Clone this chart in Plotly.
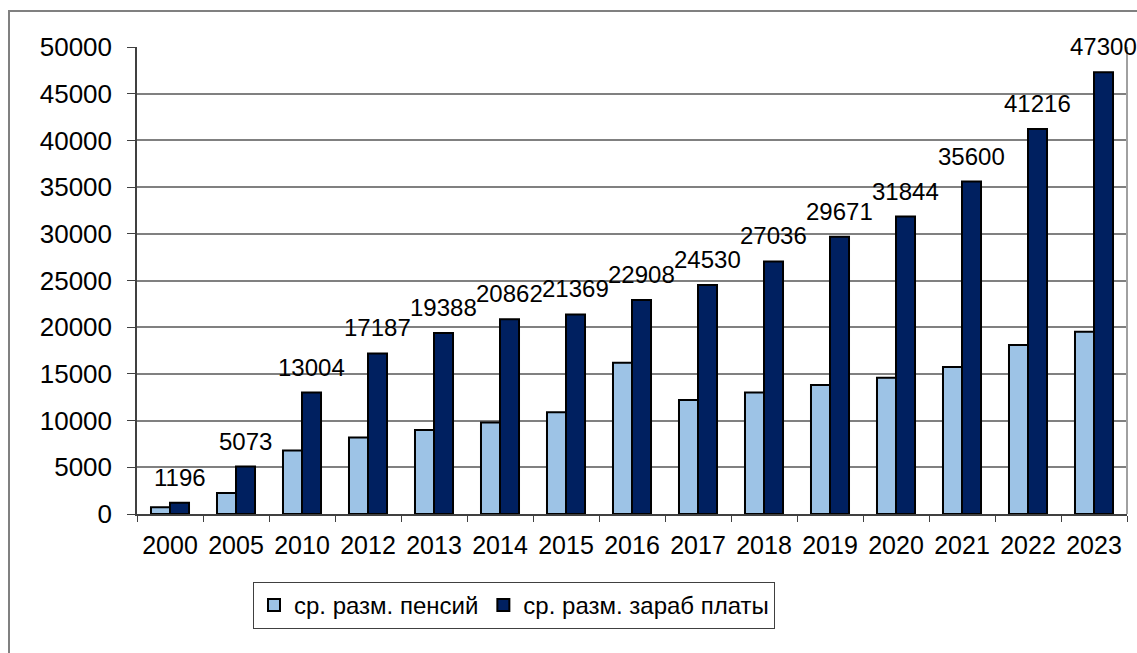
import plotly.graph_objects as go

years = ["2000", "2005", "2010", "2012", "2013", "2014", "2015", "2016",
         "2017", "2018", "2019", "2020", "2021", "2022", "2023"]
pension = [720, 2250, 6800, 8200, 9000, 9800, 10900, 16200,
           12200, 13000, 13800, 14600, 15750, 18100, 19500]
salary = [1196, 5073, 13004, 17187, 19388, 20862, 21369, 22908,
          24530, 27036, 29671, 31844, 35600, 41216, 47300]
series_names = ["ср. разм. пенсий", "ср. разм. зараб платы"]
y_ticks = [0, 5000, 10000, 15000, 20000, 25000, 30000, 35000, 40000, 45000, 50000]

FONT = "Liberation Sans, Arial, sans-serif"

fig = go.Figure()
fig.add_trace(go.Bar(x=years, y=pension, name=series_names[0],
                     marker=dict(color="#9DC3E6", line=dict(color="black", width=2))))
fig.add_trace(go.Bar(x=years, y=salary, name=series_names[1],
                     marker=dict(color="#002060", line=dict(color="black", width=2))))

for i, v in enumerate(salary):
    fig.add_annotation(x=i, y=v, text=str(v), showarrow=False, xref="x", yref="y",
                       xshift=9.5, yshift=10, yanchor="bottom",
                       font=dict(family=FONT, size=24, color="black"))

W, H = 1137, 653
L, T = 137, 47
R = W - 1127
B = H - 514
pw, ph = W - L - R, H - T - B

def px_x(x):
    return (x - L) / pw

def px_y(y):
    return (H - B - y) / ph

# outer chart border (left & top visible)
fig.add_shape(type="rect", xref="paper", yref="paper",
              x0=px_x(9), x1=px_x(1160), y0=px_y(680), y1=px_y(11),
              line=dict(color="#808080", width=2), fillcolor="rgba(0,0,0,0)", layer="below")
# right border of plot area
fig.add_shape(type="line", xref="paper", yref="paper", x0=1, x1=1, y0=0, y1=1,
              line=dict(color="#A0A0A0", width=2))

fig.update_layout(
    width=W, height=H,
    margin=dict(l=L, r=R, t=T, b=B),
    paper_bgcolor="white", plot_bgcolor="white",
    barmode="group", bargap=0.424, bargroupgap=0,
    font=dict(family=FONT, color="black"),
    showlegend=True,
    legend=dict(orientation="h", x=px_x(514), y=px_y(582), xanchor="center", yanchor="top",
                bordercolor="#404040", borderwidth=1, font=dict(size=24, family=FONT),
                itemsizing="constant"),
)
fig.update_xaxes(type="category", range=[-0.5, len(years) - 0.5], showline=True,
                 linecolor="#404040", linewidth=1.5,
                 ticks="outside", tickson="boundaries", ticklen=6, tickcolor="#404040",
                 tickfont=dict(size=25, family=FONT), showgrid=False, tickangle=0,
                 ticklabelstandoff=8)
fig.update_yaxes(range=[0, 50000], tickvals=y_ticks, tickformat="d", showline=True,
                 linecolor="#404040",
                 linewidth=1.5, ticks="outside", ticklen=8, tickcolor="#404040",
                 tickfont=dict(size=26, family=FONT), showgrid=True, gridcolor="#808080",
                 gridwidth=1.5, zeroline=False, ticklabelstandoff=10)

fig.write_html("out.html", config={"displayModeBar": False},
               post_script="document.body.style.margin='0';document.body.style.overflow='hidden';")
